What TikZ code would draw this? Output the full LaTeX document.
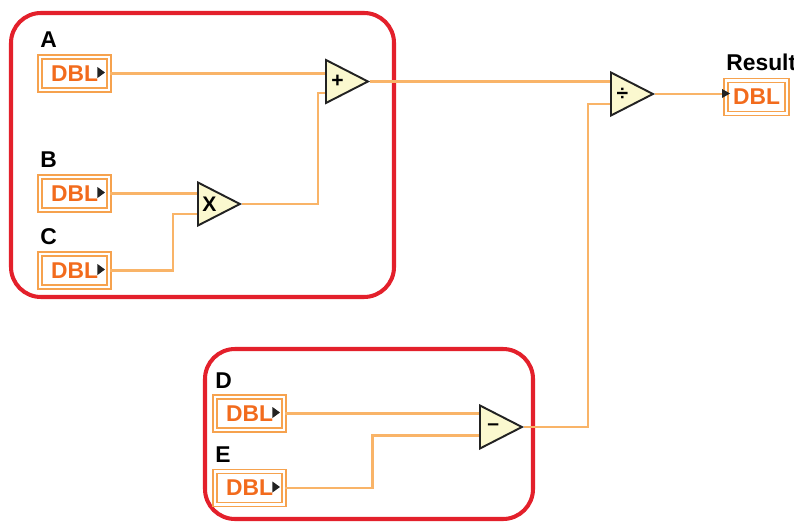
\documentclass[tikz,border=0pt]{standalone}
\usepackage{fontspec}
\setmainfont{Liberation Sans}
\usetikzlibrary{shapes.geometric,calc}
\definecolor{lvred}{HTML}{E3202B}
\definecolor{lvorange}{HTML}{F26B1D}
\definecolor{lvwire}{HTML}{F9B468}
\definecolor{lvframe}{HTML}{F6A24E}
\definecolor{lvfill}{HTML}{FBF8CF}
\definecolor{lvdark}{HTML}{222222}
\begin{document}
\begin{tikzpicture}[
x=0.02cm,
y=-0.02cm,
terminal/.style={
draw=lvframe,
double=white,
double distance=1.2pt,
line width=1.1pt,
minimum width=1.38cm,
minimum height=0.66cm,
inner sep=0pt,
text=lvorange,
font=\fontsize{13}{15}\selectfont\bfseries
},
tag/.style={
anchor=base west,
inner sep=0pt,
font=\fontsize{13}{15}\selectfont\bfseries
},
op/.style={
isosceles triangle,
isosceles triangle stretches,
draw=lvdark,
fill=lvfill,
line width=1.1pt,
minimum width=0.86cm,
minimum height=0.84cm,
inner sep=0pt,
anchor=west,
font=\fontsize{12}{14}\selectfont\bfseries
},
wire/.style={
draw=lvwire,
line width=1.4pt
},
group/.style={
draw=lvred,
line width=2.3pt,
rounded corners=0.6cm
}
]
\useasboundingbox (0,0) rectangle (794,523);

\draw[group] (11,13) rectangle (394,297);
\draw[group] (205,349) rectangle (533,519);

\node[tag] (labA) at (40,48) {A};
\node[terminal] (A) at (74.5,73.5) {DBL};

\node[tag] (labB) at (40,168) {B};
\node[terminal] (B) at (74.5,193.5) {DBL};

\node[tag] (labC) at (40,245) {C};
\node[terminal] (C) at (74.5,270.5) {DBL};

\node[tag] (labD) at (215,388) {D};
\node[terminal] (D) at (249.5,413.5) {DBL};

\node[tag] (labE) at (215,462) {E};
\node[terminal] (E) at (249.5,488) {DBL};

\node[tag] (labR) at (726,71) {Result};
\node[terminal,minimum width=1.22cm,minimum height=0.66cm] (res) at (756.5,97) {DBL};

\node[op] (mul) at (197,204) {X};
\node[op] (add) at (325,81.5) {+};
\node[op] (sub) at (479,427) {–};
\node[op] (div) at (610,94) {÷};

\draw[wire] (A.east) -- (A.east -| add.west);
\draw[wire] (B.east) -- (B.east -| mul.west);
\draw[wire] (C.east) -- ++(63,0) |- ($(mul.west)+(0,10)$);
\draw[wire] (mul.apex) -| ($(add.west)+(-7,11.5)$) -- ($(add.west)+(0,11.5)$);
\draw[wire] (add.apex) -- (add.apex -| div.west);
\draw[wire] (D.east) -- (D.east -| sub.west);
\draw[wire] (E.east) -- ++(87.5,0) |- ($(sub.west)+(0,8.5)$);
\draw[wire] (sub.apex) -| ($(div.west)+(-22,10)$) -- ($(div.west)+(0,10)$);
\draw[wire] (div.apex) -- (div.apex -| res.west);

\foreach \n in {A,B,C,D,E}
\fill[lvdark] ($(\n.east)+(-12.5,-6.5)$) -- ++(7.5,5.5) -- ++(-7.5,5.5) -- cycle;
\fill[lvdark] ($(res.west)+(-3,-8)$) -- ++(8,4.5) -- ++(-8,4.5) -- cycle;

\end{tikzpicture}
\end{document}
